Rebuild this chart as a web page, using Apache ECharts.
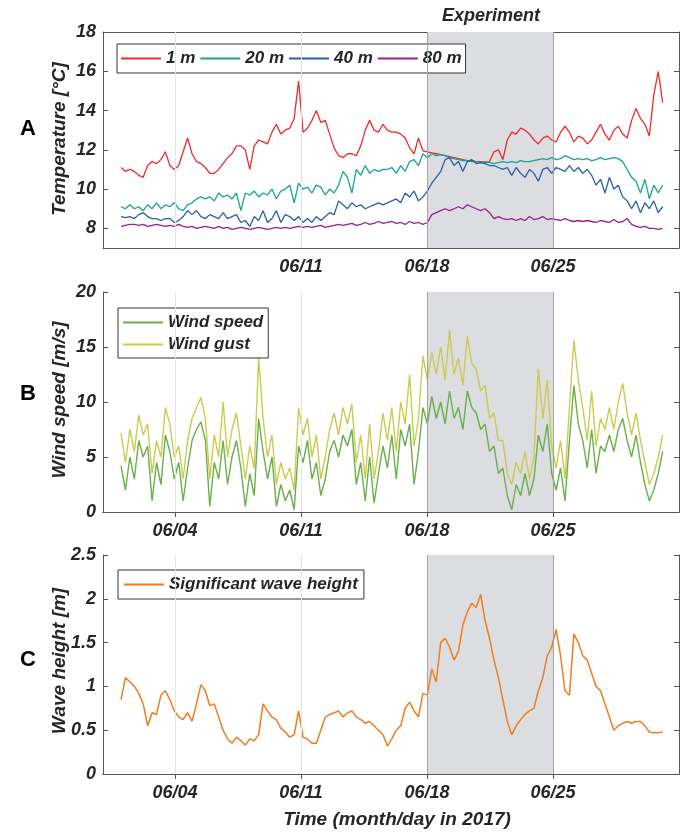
<!DOCTYPE html>
<html>
<head>
<meta charset="utf-8">
<script src="https://cdn.jsdelivr.net/npm/echarts@6/dist/echarts.min.js"></script>
<style>
  html, body { margin: 0; background: #fff; }
  #chart { width: 690px; height: 832px; }
</style>
</head>
<body>
<div id="chart"></div>
<script>
// samples start 06/01 00:00 UTC, one reading every ~5.9 h
const startTime = Date.UTC(2017, 5, 1);
const stepHours = 5.92;

const tickDays = ['06/04', '06/11', '06/18', '06/25'];
const experimentDays = ['06/18', '06/25'];

const temp1m = [
  11.1, 10.9, 11.0, 10.9, 10.7, 10.6, 11.2, 11.4, 11.3, 11.5,
  11.9, 11.2, 11.0, 11.2, 11.9, 12.6, 11.8, 11.4, 11.3, 11.1,
  10.8, 10.8, 11.0, 11.3, 11.6, 11.8, 12.2, 12.2, 12.0, 11.0,
  12.2, 12.5, 12.4, 12.3, 12.9, 13.3, 12.8, 13.0, 13.1, 13.6,
  15.5, 12.9, 13.1, 13.5, 14.0, 13.4, 13.5, 12.8, 12.1, 11.7,
  11.6, 11.8, 11.8, 11.7, 12.2, 13.0, 13.5, 13.0, 12.9, 13.3,
  13.0, 12.9, 12.9, 12.8, 12.6, 12.1, 11.8, 12.6, 11.95, 11.9,
  11.85, 11.8, 11.75, 11.7, 11.65, 11.6, 11.55, 11.5, 11.45, 11.45,
  11.4, 11.4, 11.35, 11.4, 11.9, 12.0, 11.5, 12.5, 12.9, 12.8,
  13.1, 13.0, 12.8, 12.5, 12.3, 12.6, 12.7, 12.5, 12.4, 12.9,
  13.2, 12.9, 12.4, 12.7, 12.6, 12.3, 12.5, 12.9, 13.3, 12.8,
  12.5, 13.0, 13.2, 12.8, 12.6, 13.5, 14.1, 13.6, 13.3, 12.7,
  14.8, 16.0, 14.4
];
const temp20m = [
  9.1, 9.0, 9.2, 9.0, 9.1, 8.9, 9.2, 9.0, 9.3, 9.0,
  9.2, 9.1, 9.3, 9.0, 8.9, 9.2, 9.3, 9.5, 9.6, 9.5,
  9.6, 9.4, 9.8, 9.6, 9.7, 9.5, 9.8, 8.9, 9.8, 9.7,
  9.9, 9.6, 9.8, 9.7, 10.0, 9.5, 9.9, 10.0, 10.2, 9.3,
  10.3, 10.0, 10.1, 9.8, 10.2, 10.1, 9.7, 10.0, 9.8, 10.2,
  10.9, 10.6, 9.8, 11.0, 10.7, 11.2, 10.8, 11.0, 10.9, 11.0,
  11.0, 11.1, 10.8, 11.2, 10.9, 11.4, 11.5, 11.2, 11.8, 11.6,
  11.8, 11.7, 11.75, 11.7, 11.6, 11.55, 11.5, 11.45, 11.45, 11.4,
  11.4, 11.35, 11.4, 11.35, 11.3, 11.35, 11.4, 11.35, 11.4, 11.35,
  11.45, 11.4, 11.4, 11.45, 11.5, 11.55, 11.5, 11.6, 11.5, 11.55,
  11.7, 11.6, 11.5, 11.55, 11.5, 11.55, 11.45, 11.5, 11.6, 11.5,
  11.55, 11.6, 11.55, 11.4, 11.0, 10.6, 10.4, 9.8, 10.5, 9.5,
  10.2, 9.8, 10.2
];
const temp40m = [
  8.6, 8.55, 8.6, 8.5, 8.7, 8.8, 8.6, 8.5, 8.5, 8.4,
  8.5, 8.5, 8.3, 8.4, 8.6, 8.9, 8.7, 8.9, 8.6, 8.5,
  8.7, 8.6, 8.5, 8.8, 8.5, 8.6, 8.7, 8.3, 8.4, 8.1,
  8.6, 8.4, 8.9, 8.3, 8.5, 8.9, 8.3, 8.7, 8.6, 8.4,
  8.6, 8.3, 8.5, 8.3, 8.6, 8.4, 8.6, 8.8, 8.7, 9.4,
  9.2, 9.0, 9.3, 9.1, 9.2, 9.0, 9.1, 9.2, 9.3, 9.2,
  9.3, 9.4, 9.5, 9.3, 9.8, 9.6, 9.9, 9.4, 9.6, 9.9,
  10.3, 10.6, 10.9, 11.5, 11.6, 11.2, 11.4, 10.9, 11.4, 11.5,
  11.3, 11.35, 11.3, 11.2, 11.2, 11.1, 11.0, 11.1, 10.7, 11.1,
  10.8, 10.6, 11.0, 10.8, 10.4, 11.0, 11.1, 10.8, 11.1, 11.0,
  10.9, 11.2, 10.9, 11.1, 10.8, 11.0, 10.7, 10.2, 10.5, 9.8,
  10.6, 10.0, 10.2, 9.6, 9.4, 9.0, 9.4, 8.8, 9.3, 9.0,
  9.4, 8.8, 9.1
];
const temp80m = [
  8.1, 8.15, 8.2, 8.2, 8.15, 8.2, 8.1, 8.15, 8.2, 8.15,
  8.1, 8.15, 8.1, 8.2, 8.1, 8.05, 8.1, 8.0, 8.05, 8.1,
  8.05, 8.0, 8.1, 8.0, 8.05, 7.95, 8.0, 8.05, 8.0, 7.95,
  8.0, 8.05, 8.0, 7.95, 8.0, 8.05, 8.0, 8.05, 8.0, 8.05,
  8.1, 8.05, 8.1, 8.05, 8.1, 8.15, 8.05, 8.1, 8.15, 8.2,
  8.15, 8.2, 8.25, 8.15, 8.2, 8.3, 8.2, 8.25, 8.35, 8.25,
  8.3, 8.35, 8.25, 8.3, 8.2, 8.35, 8.25, 8.3, 8.2, 8.3,
  8.7, 8.8, 8.9, 9.0, 8.9, 9.0, 9.1, 9.0, 9.2, 9.1,
  9.0, 8.9, 9.0, 8.8, 8.5, 8.6, 8.5, 8.45, 8.5, 8.4,
  8.5, 8.4, 8.6, 8.45, 8.5, 8.6, 8.45, 8.5, 8.45, 8.4,
  8.5, 8.4, 8.35, 8.4, 8.35, 8.4, 8.35, 8.3, 8.4, 8.35,
  8.3, 8.45, 8.3, 8.35, 8.5, 8.2, 8.1, 8.05, 8.1, 8.0,
  8.0, 7.95, 8.0
];
const windSpeed = [
  4.2, 2.0, 5.0, 3.0, 6.5, 5.0, 6.0, 1.0, 4.5, 2.5,
  7.0, 5.5, 3.0, 4.5, 1.0, 4.0, 6.5, 7.5, 8.2, 6.5,
  0.5, 4.5, 3.0, 6.5, 2.5, 5.0, 6.5, 4.0, 0.5, 3.5,
  1.5, 8.5, 5.5, 3.0, 5.0, 0.5, 2.5, 1.0, 2.0, 0.2,
  6.0, 4.5, 6.5, 3.0, 4.5, 1.5, 3.0, 5.5, 6.5, 5.0,
  7.0, 6.0, 7.5, 2.5, 4.5, 1.0, 5.0, 0.8, 3.5, 6.0,
  4.0, 7.0, 3.0, 7.5, 6.0, 8.0, 2.5, 5.5, 9.5, 8.0,
  10.5, 8.5, 10.0, 8.0, 11.0, 8.5, 9.5, 7.5, 11.0, 9.5,
  9.0, 7.5, 8.0, 5.5, 6.0, 3.5, 4.0, 1.5, 0.2, 2.5,
  1.5, 3.5, 1.5, 3.0, 7.0, 5.5, 8.0, 3.5, 2.0, 4.0,
  1.0, 6.5, 11.5, 8.0, 6.5, 4.0, 7.5, 3.5, 6.0, 5.5,
  7.0, 5.5, 7.5, 8.5, 6.5, 5.0, 7.0, 4.5, 2.5, 1.0,
  2.0, 3.5, 5.5
];
const windGust = [
  7.2, 4.5, 7.5, 5.5, 8.8, 7.0, 8.0, 3.5, 6.5, 5.0,
  9.5, 8.0, 5.0, 6.0, 3.0, 6.5, 8.5, 9.5, 10.4, 8.5,
  3.0, 7.0, 5.0, 10.0, 5.0, 7.5, 9.0, 6.0, 3.0, 6.0,
  4.0, 14.0, 8.5, 5.0, 7.0, 2.5, 4.5, 3.0, 4.0, 2.0,
  9.5, 7.0, 8.5, 5.0, 7.0, 3.0, 5.0, 7.5, 9.0, 7.0,
  9.5, 8.0, 9.8, 4.5, 7.0, 3.0, 8.0, 3.0, 5.5, 9.0,
  6.5, 9.5, 5.5, 10.0, 8.0, 12.5, 6.0, 8.5, 14.2, 12.0,
  14.5, 12.5, 15.0, 12.0, 16.5, 12.5, 14.0, 11.5, 16.0, 13.5,
  13.0, 11.0, 11.5, 8.5, 9.0, 6.5, 6.5, 3.5, 2.5, 4.5,
  3.5, 5.5, 3.0, 5.0, 13.0, 8.5, 12.0, 6.0, 4.0, 6.5,
  3.0, 9.5, 15.6, 12.0, 9.5, 6.5, 11.0, 6.0, 8.5, 7.5,
  9.5, 7.5, 10.0, 11.7, 9.0, 7.0, 9.0, 6.5, 4.5, 2.5,
  3.5, 5.0, 7.0
];
const waveHeight = [
  0.85, 1.1, 1.05, 1.0, 0.92, 0.8, 0.55, 0.7, 0.68, 0.9,
  0.95, 0.85, 0.72, 0.65, 0.62, 0.7, 0.6, 0.8, 1.02, 0.95,
  0.78, 0.8, 0.65, 0.5, 0.4, 0.35, 0.42, 0.38, 0.33, 0.4,
  0.38, 0.45, 0.8, 0.72, 0.65, 0.62, 0.52, 0.48, 0.42, 0.45,
  0.72, 0.42, 0.4, 0.35, 0.35, 0.5, 0.65, 0.68, 0.7, 0.72,
  0.65, 0.7, 0.72, 0.65, 0.62, 0.58, 0.6, 0.55, 0.5, 0.45,
  0.32, 0.4, 0.5, 0.55, 0.75, 0.82, 0.72, 0.65, 0.92, 0.9,
  1.2, 1.05, 1.5, 1.55, 1.45, 1.3, 1.4, 1.7, 1.85, 1.95,
  1.9, 2.05, 1.75, 1.55, 1.3, 1.1, 0.85, 0.6, 0.45, 0.55,
  0.62, 0.68, 0.72, 0.75, 0.95, 1.1, 1.35, 1.45, 1.65, 1.35,
  0.95, 0.9, 1.6, 1.5, 1.35, 1.3, 1.15, 1.0, 0.95, 0.8,
  0.65, 0.5, 0.55, 0.58, 0.6, 0.58, 0.6, 0.6, 0.55, 0.48,
  0.47, 0.47, 0.48
];

const tempTicks = [8, 10, 12, 14, 16, 18];

const dayToTime = s => Date.UTC(2017, +s.slice(0, 2) - 1, +s.slice(3));
const pad = n => (n < 10 ? '0' : '') + n;
const fmtDay = v => {
  const d = new Date(v);
  return pad(d.getUTCMonth() + 1) + '/' + pad(d.getUTCDate());
};
const series = arr => arr.map((v, i) => [startTime + i * stepHours * 3600e3, v]);

const tickTimes = tickDays.map(dayToTime);
const expStart = dayToTime(experimentDays[0]);
const expEnd = dayToTime(experimentDays[1]);
const xMin = Date.UTC(2017, 4, 31);
const xMax = Date.UTC(2017, 6, 2);

const fontFamily = "'Liberation Sans', Arial, sans-serif";
const textColor = '#262626';
const axisColor = '#555';
const labelFont = { fontFamily, fontSize: 18, fontWeight: 'bold', fontStyle: 'italic', color: textColor };

const grids = [
  { left: 103, top: 32, width: 576, height: 216 },
  { left: 103, top: 292, width: 576, height: 220 },
  { left: 103, top: 555, width: 576, height: 219 }
];

// x axes are plain value axes holding UTC timestamps
const xAxes = [];
const yAxes = [];
grids.forEach((g, i) => {
  const labelTimes = i === 0 ? tickTimes.slice(1) : tickTimes;
  xAxes.push({
    type: 'value', gridIndex: i, min: xMin, max: xMax,
    axisLine: { show: true, lineStyle: { color: axisColor, width: 1 } },
    axisTick: { show: true, inside: true, length: 5, customValues: tickTimes, lineStyle: { color: axisColor } },
    axisLabel: { customValues: labelTimes, formatter: v => fmtDay(v), margin: 10, ...labelFont },
    splitLine: { show: false }
  });
  xAxes.push({
    type: 'value', gridIndex: i, min: xMin, max: xMax, position: 'top',
    axisLine: { show: true, lineStyle: { color: axisColor, width: 1 } },
    axisTick: { show: true, inside: true, length: 5, customValues: tickTimes, lineStyle: { color: axisColor } },
    axisLabel: { show: false },
    splitLine: { show: false }
  });
});

const yRanges = [
  { min: 7, max: 18, ticks: tempTicks },
  { min: 0, max: 20, interval: 5 },
  { min: 0, max: 2.5, interval: 0.5 }
];
yRanges.forEach((r, i) => {
  const tick = { show: true, inside: true, length: 5, lineStyle: { color: axisColor } };
  const base = { type: 'value', gridIndex: i, min: r.min, max: r.max, splitLine: { show: false },
    axisLine: { show: true, lineStyle: { color: axisColor, width: 1 } } };
  if (r.interval) base.interval = r.interval;
  const left = { ...base, axisTick: { ...tick }, axisLabel: { margin: 7, ...labelFont } };
  const right = { ...base, position: 'right', axisTick: { ...tick }, axisLabel: { show: false } };
  if (r.ticks) {
    left.axisTick.customValues = r.ticks;
    left.axisLabel.customValues = r.ticks;
    right.axisTick.customValues = r.ticks;
  }
  yAxes.push(left, right);
});

// shaded experiment period and vertical grid lines, kept behind the data
const backdrop = i => ({
  type: 'line', xAxisIndex: i * 2, yAxisIndex: i * 2, data: [], z: 1, silent: true,
  markArea: { silent: true, itemStyle: { color: '#dcdde0' }, data: [[{ xAxis: expStart }, { xAxis: expEnd }]] },
  markLine: {
    silent: true, symbol: ['none', 'none'], label: { show: false },
    data: tickTimes.map(t => ({
      xAxis: t,
      lineStyle: { color: (t === expStart || t === expEnd) ? '#a3a3a3' : '#e4e4e4', width: 1, type: 'solid' }
    }))
  }
});

const line = (name, data, color, i, width) => ({
  name, type: 'line', data: series(data), xAxisIndex: i * 2, yAxisIndex: i * 2,
  symbol: 'none', z: 3, lineStyle: { color, width: width || 1.3 }, itemStyle: { color }
});

const legendText = { fontFamily, fontSize: 17, fontWeight: 'bold', fontStyle: 'italic', color: textColor };
const legendBox = { backgroundColor: '#fff', borderColor: '#333', borderWidth: 1, borderRadius: 0,
  icon: 'rect', itemWidth: 40, itemHeight: 2, textStyle: legendText, selectedMode: false };

const option = {
  animation: false,
  grid: grids,
  xAxis: xAxes,
  yAxis: yAxes,
  legend: [
    { ...legendBox, data: ['1 m', '20 m', '40 m', '80 m'], left: 117, top: 44, itemGap: 5, padding: [6, 4] },
    { ...legendBox, data: ['Wind speed', 'Wind gust'], orient: 'vertical', left: 118, top: 308, itemGap: 5, padding: [6, 5, 5, 5] },
    { ...legendBox, data: ['Significant wave height'], left: 118, top: 570, padding: [6, 6] }
  ],
  series: [
    backdrop(0), backdrop(1), backdrop(2),
    line('1 m', temp1m, '#ec2d2d', 0),
    line('20 m', temp20m, '#17a58e', 0),
    line('40 m', temp40m, '#2b5ea8', 0),
    line('80 m', temp80m, '#98208f', 0),
    line('Wind gust', windGust, '#cccb4f', 1, 1.4),
    line('Wind speed', windSpeed, '#69af4a', 1, 1.4),
    line('Significant wave height', waveHeight, '#f07d21', 2, 1.5)
  ],
  graphic: [
    { type: 'text', x: 491, y: 16, style: { text: 'Experiment', align: 'center', verticalAlign: 'middle', ...legendText, fontSize: 18, fill: textColor } },
    { type: 'text', x: 28, y: 129, style: { text: 'A', align: 'center', verticalAlign: 'middle', fontFamily, fontSize: 22, fontWeight: 'bold', fill: '#000' } },
    { type: 'text', x: 28, y: 394, style: { text: 'B', align: 'center', verticalAlign: 'middle', fontFamily, fontSize: 22, fontWeight: 'bold', fill: '#000' } },
    { type: 'text', x: 28, y: 660, style: { text: 'C', align: 'center', verticalAlign: 'middle', fontFamily, fontSize: 22, fontWeight: 'bold', fill: '#000' } },
    { type: 'text', x: 60, y: 139, rotation: Math.PI / 2, style: { text: 'Temperature [°C]', align: 'center', verticalAlign: 'middle', ...legendText, fontSize: 19, fill: textColor } },
    { type: 'text', x: 60, y: 400, rotation: Math.PI / 2, style: { text: 'Wind speed [m/s]', align: 'center', verticalAlign: 'middle', ...legendText, fontSize: 19, fill: textColor } },
    { type: 'text', x: 60, y: 661, rotation: Math.PI / 2, style: { text: 'Wave height [m]', align: 'center', verticalAlign: 'middle', ...legendText, fontSize: 19, fill: textColor } },
    { type: 'text', x: 397, y: 820, style: { text: 'Time (month/day in 2017)', align: 'center', verticalAlign: 'middle', ...legendText, fontSize: 19, fill: textColor } }
  ]
};

const chart = echarts.init(document.getElementById('chart'));
chart.setOption(option);
</script>
</body>
</html>
